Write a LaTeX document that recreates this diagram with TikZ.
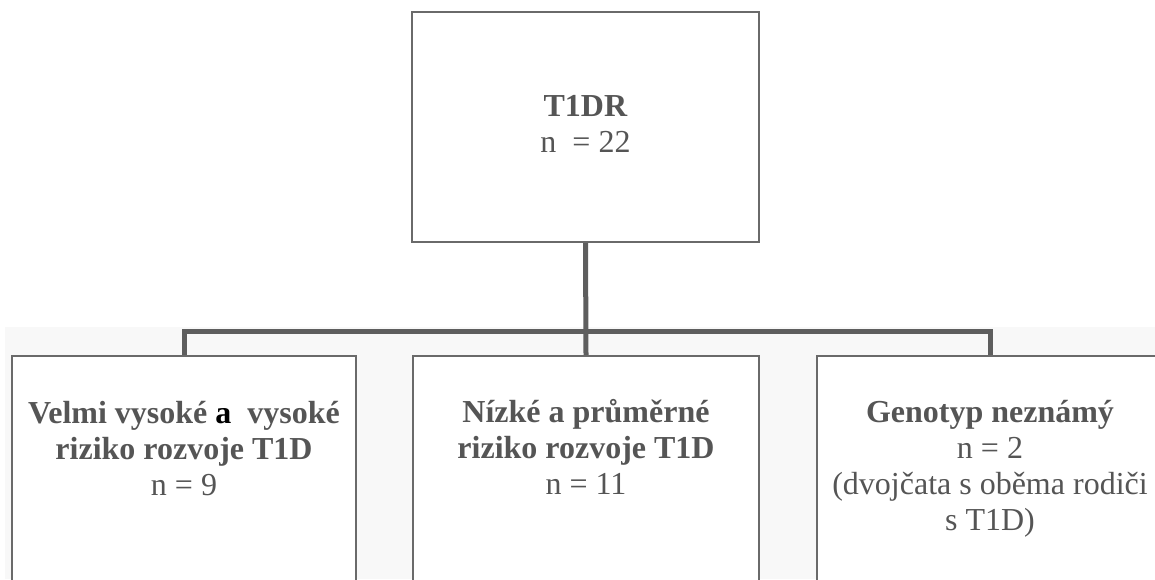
\documentclass[tikz,border=0pt]{standalone}
\usepackage{fontspec}
\setmainfont{Liberation Serif}
\definecolor{linegray}{HTML}{6A6A6A}
\definecolor{bargray}{HTML}{5E5E5E}
\definecolor{txtgray}{HTML}{555555}
\definecolor{bggray}{HTML}{F8F8F8}
\begin{document}
\begin{tikzpicture}[x=1pt,y=-1pt,
  box/.style={draw=linegray, line width=2pt, fill=white, rectangle, inner sep=0pt},
  conn/.style={draw=bargray, line width=5pt},
  lbl/.style={text=txtgray, align=center, inner sep=0pt, anchor=base, font=\fontsize{32}{36}\selectfont}]
\useasboundingbox (0,0) rectangle (1155,579);
\clip (0,0) rectangle (1155,579);
\fill[white] (0,0) rectangle (1155,579);
\fill[bggray] (5,327) rectangle (1155,579);
% boxes
\node[box, minimum width=347pt, minimum height=230pt] (top) at (585.5,127) {};
\node[box, minimum width=344pt, minimum height=300pt] (lbox) at (184,506) {};
\node[box, minimum width=346pt, minimum height=300pt] (mbox) at (586,506) {};
\node[box, minimum width=346pt, minimum height=300pt] (rbox) at (990,506) {};
% connectors
\coordinate (bar) at (586,331);
\draw[conn] (top.south) -- (mbox.north);
\draw[conn] (lbox.north) |- (bar) -| (rbox.north);
% texts (anchored at the baseline of the last line)
\node[lbl] (t1) at (585.5,152) {\textbf{T1DR}\\n\ \ = 22};
\node[lbl] (t2) at (184,495) {\textbf{Velmi vysoké \textcolor{black}{a}\ \ vysoké}\\\textbf{riziko rozvoje T1D}\\n = 9};
\node[lbl] (t3) at (586,494) {\textbf{Nízké a průměrné}\\\textbf{riziko rozvoje T1D}\\n = 11};
\node[lbl] (t4) at (990,530) {\textbf{Genotyp neznámý}\\n = 2\\(dvojčata s oběma rodiči\\s T1D)};
\end{tikzpicture}
\end{document}
